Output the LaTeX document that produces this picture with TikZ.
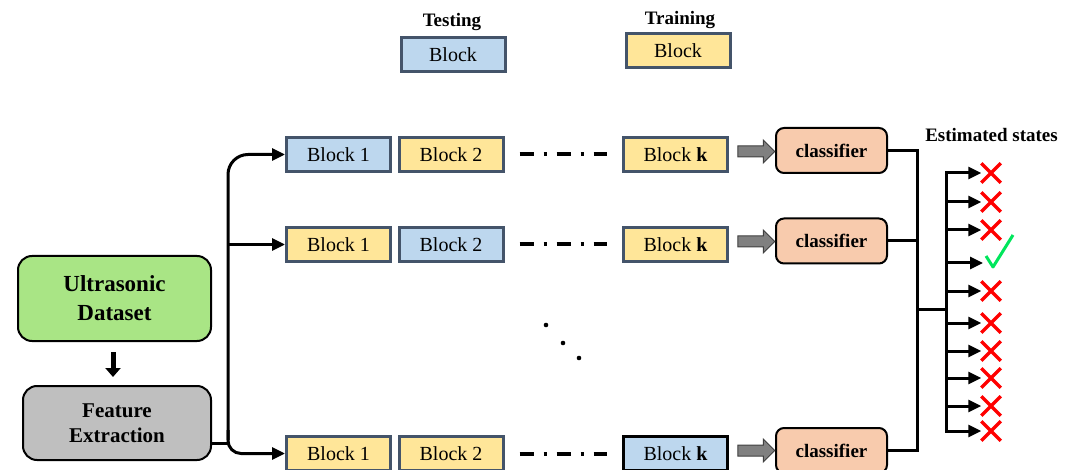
\documentclass[tikz,border=0pt]{standalone}
\usepackage{fontspec}
\setmainfont{Liberation Serif}
\usetikzlibrary{arrows.meta,shapes.arrows,shapes.misc,calc}
\definecolor{tblue}{HTML}{BDD7EE}
\definecolor{tyel}{HTML}{FFE699}
\definecolor{slate}{HTML}{44546A}
\definecolor{tgreen}{HTML}{A9E585}
\definecolor{tgray}{HTML}{BFBFBF}
\definecolor{tpeach}{HTML}{F8CBAD}
\definecolor{ckgreen}{HTML}{00E65C}
\tikzset{
  blk/.style={draw=slate, line width=3pt, minimum width=104pt, minimum height=34pt, inner sep=0pt, font=\fontsize{20}{24}\selectfont},
  testb/.style={blk, fill=tblue},
  trainb/.style={blk, fill=tyel},
  clf/.style={draw=black, line width=2pt, fill=tpeach, rounded corners=8pt, minimum width=111pt, minimum height=45pt, inner sep=0pt, font=\bfseries\fontsize{19}{22}\selectfont},
  garr/.style={single arrow, draw=black!75, fill=black!50, line width=1pt, minimum width=22pt, single arrow head extend=6pt, minimum height=37pt, inner xsep=0pt, inner ysep=5pt, single arrow tip angle=90},
  conn/.style={line width=3pt, -{Triangle[length=13pt,width=12pt]}},
  wire/.style={line width=3pt},
  xmark/.style={cross out, draw=red, line width=3.5pt, minimum size=16pt, inner sep=0pt},
  lbl/.style={font=\bfseries\fontsize{19}{22}\selectfont, inner sep=0pt},
  bigbox/.style={draw=black, line width=2pt, rounded corners=14pt, align=center, inner sep=0pt},
  dashdot/.style={line width=4pt, dash pattern=on 14pt off 10pt on 3pt off 10pt}
}
\begin{document}
\begin{tikzpicture}[x=1pt,y=-1pt]
\useasboundingbox (0,0) rectangle (1073,470);

% legend
\node[lbl] (lt) at (452,22) {Testing};
\node[testb] (lgt) at (453,54.5) {Block};
\node[lbl] (lr) at (680,20) {Training};
\node[trainb] (lgr) at (678,50.5) {Block};

% rows of blocks
\node[testb]  (b11) at (338.5,154.5) {Block 1};
\node[trainb] (b12) at (451,154.5) {Block 2};
\node[trainb] (bk1) at (675.5,154.5) {Block \textbf{k}};
\node[trainb] (b21) at (338.5,244.5) {Block 1};
\node[testb]  (b22) at (451,244.5) {Block 2};
\node[trainb] (bk2) at (675.5,244.5) {Block \textbf{k}};
\node[trainb] (b31) at (338.5,453.5) {Block 1};
\node[trainb] (b32) at (451,453.5) {Block 2};
\node[testb, draw=black, line width=3.5pt] (bk3) at (675.5,453.5) {Block \textbf{k}};

\draw[dashdot] ([xshift=15pt]b12.east) -- ([xshift=-15pt]bk1.west);
\draw[dashdot] ([xshift=15pt]b22.east) -- ([xshift=-15pt]bk2.west);
\draw[dashdot] ([xshift=15pt]b32.east) -- ([xshift=-15pt]bk3.west);

% vertical dots
\fill (546,325) circle (2.3pt);
\fill (563,343) circle (2.3pt);
\fill (579,358) circle (2.3pt);

% classifiers
\node[clf] (cl1) at (831.5,150.5) {classifier};
\node[clf] (cl2) at (831.5,241) {classifier};
\node[clf] (cl3) at (831.5,450.5) {classifier};
\node[garr] (ga1) at (753.5,151.5) {};
\node[garr] (ga2) at (753.5,241.5) {};
\node[garr] (ga3) at (753.5,450.5) {};

% left boxes
\node[bigbox, fill=tgreen, minimum width=193pt, minimum height=85pt, font=\bfseries\fontsize{23}{29}\selectfont] (ud) at (114.5,298.5) {Ultrasonic\\Dataset};
\node[bigbox, fill=tgray, minimum width=188pt, minimum height=74pt, font=\bfseries\fontsize{21}{25}\selectfont] (fe) at (117,423) {Feature\\Extraction};
\draw[line width=5pt, -{Triangle[length=9pt,width=15pt]}] ([xshift=-1.5pt,yshift=-10pt]ud.south) -- ([xshift=-4pt,yshift=8pt]fe.north);

% left connectors
\coordinate (fo) at ([yshift=-20pt]fe.east);
\coordinate (vj) at (228,443);
\coordinate (vtop) at (228,440);
\coordinate (vlow) at (228,430);
\draw[wire] (fo) -- ([xshift=1.5pt]vj);
\draw[conn, rounded corners=20pt] (vtop) |- (b11.west);
\draw[conn, rounded corners=13pt] (vlow) |- (b31.west);
\draw[conn] (vj |- b21.west) -- (b21.west);

% right wiring
\coordinate (rt) at (917,150.5);
\coordinate (rb) at (917,450.5);
\draw[wire] (cl1.east) -- (rt) -- (rb) -- (cl3.east);
\draw[wire] (cl2.east) -- (cl2.east -| rt);
\coordinate (br1) at (917,309);
\coordinate (br2) at (946,309);
\draw[wire] (br1) -- (br2);
\coordinate (vt) at (946,171.5);
\coordinate (vb) at (946,432.5);
\draw[wire] (vt) -- (vb);

\node[lbl] (es) at (991.5,135) {Estimated states};

\foreach \i/\y in {1/173,2/202,3/230,5/291,6/323,7/351,8/378,9/406,10/431}{
  \node[xmark] (x\i) at (991,\y) {};
  \draw[conn] (946,\y) -- (x\i.west);
}
\coordinate (ckin) at (983,263);
\draw[conn] (946,263) -- (ckin);
\node[minimum width=28pt, minimum height=34pt, inner sep=0pt] (ck) at (999,251) {};
\draw[ckgreen, line width=3pt, line join=round] (986,256) -- (993,267) -- (1013,235);
\end{tikzpicture}
\end{document}
